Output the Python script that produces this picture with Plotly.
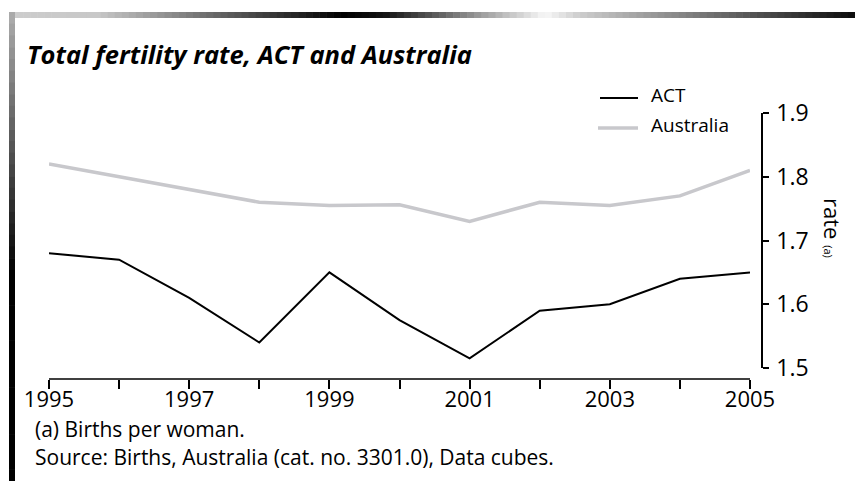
import plotly.graph_objects as go

# ---- data ----
years = [1995, 1996, 1997, 1998, 1999, 2000, 2001, 2002, 2003, 2004, 2005]
act = [1.68, 1.67, 1.61, 1.54, 1.65, 1.575, 1.515, 1.59, 1.60, 1.64, 1.65]
australia = [1.82, 1.80, 1.78, 1.76, 1.755, 1.756, 1.73, 1.76, 1.755, 1.77, 1.81]
series_names = ["ACT", "Australia"]
y_ticks = [1.5, 1.6, 1.7, 1.8, 1.9]
x_ticks = [1995, 1996, 1997, 1998, 1999, 2000, 2001, 2002, 2003, 2004, 2005]
x_ticklabels = ["1995", "", "1997", "", "1999", "", "2001", "", "2003", "", "2005"]

W, H = 855, 481
L, R = 49, 762          # plot area left / y-axis x position
T, B = 113, 379         # plot area top / x-axis line y
Y_BOTTOM = 368          # pixel of lowest y tick
X_RIGHT = 750           # pixel of last year

FONT = "Open Sans"
COL_ACT = "#000000"
COL_AUS = "#c8c8cc"

def px(x):  # pixel x -> paper
    return (x - L) / (R - L)

def py(y):  # pixel y -> paper
    return (B - y) / (B - T)

fig = go.Figure()
fig.add_trace(go.Scatter(x=years, y=act, mode="lines", name=series_names[0],
                         line=dict(color=COL_ACT, width=2)))
fig.add_trace(go.Scatter(x=years, y=australia, mode="lines", name=series_names[1],
                         line=dict(color=COL_AUS, width=3.5)))

shapes = []
# top gradient bar
def grad(t):
    pts = [(0.0, 205), (0.10, 200), (0.39, 0), (0.44, 20), (0.63, 248), (0.67, 205), (1.0, 10)]
    for (a, ca), (b, cb) in zip(pts[:-1], pts[1:]):
        if a <= t <= b:
            f = (t - a) / (b - a) if b > a else 0
            return int(ca + (cb - ca) * f)
    return 0

n = 120
x0p, x1p = 9, 855
for i in range(n):
    xa = x0p + (x1p - x0p) * i / n
    xb = x0p + (x1p - x0p) * (i + 1) / n + 0.6
    c = grad(i / n)
    shapes.append(dict(type="rect", xref="paper", yref="paper",
                       x0=px(xa), x1=px(xb), y0=py(18), y1=py(12),
                       line=dict(width=0), fillcolor=f"rgb({c},{c},{c})", layer="below"))
# left bar, grey at top to black
m = 40
for i in range(m):
    ya = 12 + (H - 12) * i / m
    yb = 12 + (H - 12) * (i + 1) / m + 0.6
    t = i / m
    c = int(max(0, 170 * (1 - t / 0.55))) if t < 0.55 else 0
    shapes.append(dict(type="rect", xref="paper", yref="paper",
                       x0=px(9), x1=px(15), y0=py(yb), y1=py(ya),
                       line=dict(width=0), fillcolor=f"rgb({c},{c},{c})", layer="below"))
# x-axis line ending at last year
shapes.append(dict(type="line", xref="x", yref="paper", x0=years[0], x1=years[-1],
                   y0=0, y1=0, line=dict(color="#000", width=1.5)))
# manual legend samples
shapes.append(dict(type="line", xref="paper", yref="paper", x0=px(600), x1=px(638),
                   y0=py(98), y1=py(98), line=dict(color=COL_ACT, width=2)))
shapes.append(dict(type="line", xref="paper", yref="paper", x0=px(598), x1=px(638),
                   y0=py(128), y1=py(128), line=dict(color=COL_AUS, width=3.5)))

annotations = [
    dict(text=series_names[0], xref="paper", yref="paper", x=px(649), y=py(95),
         xanchor="left", yanchor="middle", showarrow=False,
         font=dict(family=FONT, size=19, color="#000")),
    dict(text=series_names[1], xref="paper", yref="paper", x=px(649), y=py(125),
         xanchor="left", yanchor="middle", showarrow=False,
         font=dict(family=FONT, size=19, color="#000")),
    dict(text="rate <span style='font-size:11px'>(a)</span>", xref="paper", yref="paper",
         x=px(833), y=py(228), textangle=90, showarrow=False,
         font=dict(family=FONT, size=22, color="#000"), xanchor="center", yanchor="middle"),
    dict(text="(a) Births per woman.", xref="paper", yref="paper",
         x=px(33), y=py(429), xanchor="left", yanchor="middle", showarrow=False,
         font=dict(family=FONT, size=21, color="#000")),
    dict(text="Source: Births, Australia (cat. no. 3301.0), Data cubes.", xref="paper", yref="paper",
         x=px(33), y=py(457), xanchor="left", yanchor="middle", showarrow=False,
         font=dict(family=FONT, size=21, color="#000")),
]

fig.update_layout(
    width=W, height=H,
    margin=dict(l=L, r=W - R, t=T, b=H - B, pad=0),
    paper_bgcolor="white", plot_bgcolor="white",
    title=dict(text="<b><i>Total fertility rate, ACT and Australia</i></b>",
               x=27 / W, xanchor="left", xref="container",
               y=1 - 55 / H, yanchor="middle", yref="container",
               font=dict(family=FONT, size=25.5, color="#000")),
    xaxis=dict(domain=[0, px(X_RIGHT)], range=[years[0], years[-1]],
               tickvals=x_ticks, ticktext=x_ticklabels,
               ticks="outside", ticklen=9, tickwidth=1.5, tickcolor="#000",
               showline=False, showgrid=False, zeroline=False,
               anchor="free", position=0, ticklabelstandoff=-8,
               tickfont=dict(family=FONT, size=22, color="#000")),
    yaxis=dict(domain=[py(Y_BOTTOM), 1], range=[1.5, 1.9], tickvals=y_ticks,
               tickformat=".1f",
               side="right", anchor="free", position=1,
               ticks="outside", ticklen=6, tickwidth=1.5, tickcolor="#000",
               showline=True, linecolor="#000", linewidth=1.5,
               showgrid=False, zeroline=False, ticklabelstandoff=3,
               tickfont=dict(family=FONT, size=23, color="#000")),
    shapes=shapes,
    annotations=annotations,
    showlegend=False,
)

fig.write_html("out.html", config={"displayModeBar": False},
               post_script="document.body.style.margin='0';")
